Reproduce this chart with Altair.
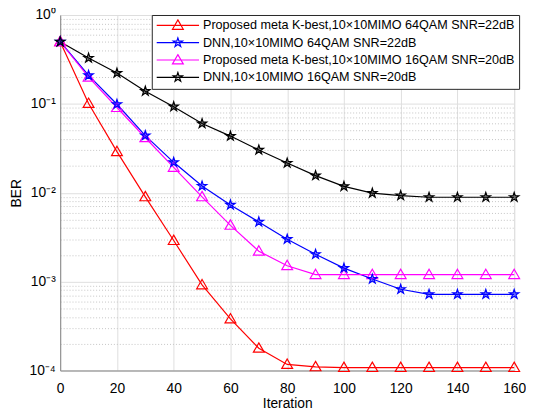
import altair as alt
import pandas as pd

# ---------------- data ----------------
iterations = [0, 10, 20, 30, 40, 50, 60, 70, 80, 90, 100, 110, 120, 130, 140, 150, 160]

ber_meta_64 = [0.5, 0.101, 0.029, 0.0090, 0.0029, 0.00092, 0.00038, 0.000178, 0.000117,
               0.000110, 0.000108, 0.000108, 0.000108, 0.000108, 0.000108, 0.000108, 0.000108]
ber_dnn_64 = [0.5, 0.209, 0.099, 0.044, 0.022, 0.0119, 0.0073, 0.0047, 0.0030,
              0.00203, 0.00142, 0.00107, 0.00082, 0.00072, 0.00072, 0.00072, 0.00072]
ber_meta_16 = [0.5, 0.20, 0.091, 0.0416, 0.0193, 0.0090, 0.0043, 0.0022, 0.00151,
               0.0012, 0.0012, 0.0012, 0.0012, 0.0012, 0.0012, 0.0012, 0.0012]
ber_dnn_16 = [0.5, 0.328, 0.222, 0.139, 0.093, 0.060, 0.0434, 0.0303, 0.0216,
              0.0156, 0.0118, 0.0099, 0.0093, 0.0089, 0.0089, 0.0089, 0.0089]

series_names = [
    "Proposed meta K-best,10\u00d710MIMO 64QAM SNR=22dB",
    "DNN,10\u00d710MIMO 64QAM SNR=22dB",
    "Proposed meta K-best,10\u00d710MIMO 16QAM SNR=20dB",
    "DNN,10\u00d710MIMO 16QAM SNR=20dB",
]
series_markers = ["triangle", "star", "triangle", "star"]
series_colors = ["#ff0000", "#0000ff", "#ff00ff", "#000000"]

x_ticks = [0, 20, 40, 60, 80, 100, 120, 140, 160]

# ---------------- marker geometry ----------------
def star_path(r):
    import math
    pts = []
    for k in range(10):
        ang = math.radians(-90 + 36 * k)
        rr = r if k % 2 == 0 else r * 0.382
        pts.append((rr * math.cos(ang), rr * math.sin(ang)))
    return "M" + "L".join(f"{x:.3f},{y:.3f}" for x, y in pts) + "Z"

def tri_path(r):
    return f"M0,{-r:.3f}L{r:.3f},{0.73*r:.3f}L{-r:.3f},{0.73*r:.3f}Z"

TRI = tri_path(1)
STAR = star_path(1)
LEG_R = 21.5
LEG_TRI = "M-1,0L1,0" + tri_path(5.5 / LEG_R)
LEG_STAR = "M-1,0L1,0" + star_path(4.9 / LEG_R)
legend_shapes = [LEG_TRI if m == "triangle" else LEG_STAR for m in series_markers]

rows = []
for name, marker, vals in zip(series_names, series_markers,
                              [ber_meta_64, ber_dnn_64, ber_meta_16, ber_dnn_16]):
    for it, v in zip(iterations, vals):
        rows.append({"Iteration": it, "BER": v, "series": name, "marker": marker})
df = pd.DataFrame(rows)

FONT = "Liberation Sans"
AX = "#262626"

y_values = [m * 10.0 ** e for e in range(-4, 0) for m in range(1, 10)] + [1.0]
major_test = "abs(log(datum.value)/LN10 - round(log(datum.value)/LN10)) < 0.001"
label_expr = (
    f"({major_test}) ? (round(log(datum.value)/LN10) == 0 ? '10\u2070' : "
    "'10\u207b' + ['', '\u00b9', '\u00b2', '\u00b3', '\u2074'][-round(log(datum.value)/LN10)]) : ''"
)

x_enc = alt.X("Iteration:Q",
              scale=alt.Scale(domain=[0, 160], nice=False),
              axis=alt.Axis(values=x_ticks, title="Iteration", grid=True,
                            gridColor="#dedede", ticks=False, tickSize=0,
                            labelPadding=11, labelFlush=False, titlePadding=2,
                            labelFontSize=14, titleFontSize=14, titleFontWeight="normal"))
y_enc = alt.Y("BER:Q",
              scale=alt.Scale(type="log", domain=[1e-4, 1], nice=False),
              axis=alt.Axis(values=y_values, labelExpr=label_expr, title="BER",
                            grid=True,
                            gridDash={"condition": {"test": major_test, "value": []}, "value": [1, 2]},
                            gridColor={"condition": {"test": major_test, "value": "#dedede"}, "value": "#c4c4c4"},
                            ticks=False, tickSize=0, labelPadding=5, labelOverlap=False,
                            labelFlush=False, titlePadding=6,
                            labelFontSize=14, titleFontSize=14, titleFontWeight="normal"))

color_scale = alt.Scale(domain=series_names, range=series_colors)

leg = alt.Legend(
    title=None, orient="none", legendX=93, legendY=0,
    labelFont=FONT, labelFontSize=12.8, labelColor="#000000", labelLimit=500,
    labelOffset=3, symbolSize=LEG_R * LEG_R * 4, symbolStrokeWidth=1.2,
    symbolFillColor="transparent",
    padding=4, rowPadding=3.6, clipHeight=13, fillColor="#ffffff", strokeColor=AX,
    symbolOffset=0,
)

base = alt.Chart(df)

legend_layer = base.transform_filter("datum.Iteration < 0").mark_point(
    filled=False, strokeWidth=1.2, opacity=1
).encode(
    x=x_enc, y=y_enc,
    color=alt.Color("series:N", scale=color_scale, legend=leg),
    shape=alt.Shape("series:N", scale=alt.Scale(domain=series_names, range=legend_shapes), legend=leg),
)

lines = base.mark_line(strokeWidth=1.2).encode(
    x=x_enc, y=y_enc,
    color=alt.Color("series:N", scale=color_scale),
    detail="series:N",
)

tri_pts = base.transform_filter("datum.marker == 'triangle'").mark_point(
    shape=TRI, size=121, filled=False, strokeWidth=1.2, opacity=1
).encode(
    x=x_enc, y=y_enc,
    color=alt.Color("series:N", scale=color_scale),
)

# translucent fill inside the star markers (constant colour per series, no scale)
star_fills = []
for name, marker, col in zip(series_names, series_markers, series_colors):
    if marker != "star":
        continue
    star_fills.append(
        base.transform_filter(alt.datum.series == name).mark_point(
            shape=STAR, size=100, filled=True, fill=col, opacity=0.45, strokeWidth=0
        ).encode(x=x_enc, y=y_enc)
    )

star_pts = base.transform_filter("datum.marker == 'star'").mark_point(
    shape=STAR, size=100, filled=False, strokeWidth=1.2, opacity=1
).encode(
    x=x_enc, y=y_enc,
    color=alt.Color("series:N", scale=color_scale),
)

chart = alt.layer(legend_layer, lines, tri_pts, *star_fills, star_pts).properties(
    width=461, height=361,
    autosize=alt.AutoSizeParams(type="none"),
    padding={"left": 53, "top": 4, "right": 12, "bottom": 37},
).configure_view(
    stroke=AX, strokeWidth=1
).configure_axis(
    domainColor=AX, domainWidth=1, labelColor=AX, titleColor=AX,
    labelFont=FONT, titleFont=FONT,
).configure(font=FONT)

chart.save("out.html", embed_options={"renderer": "svg", "actions": False})
